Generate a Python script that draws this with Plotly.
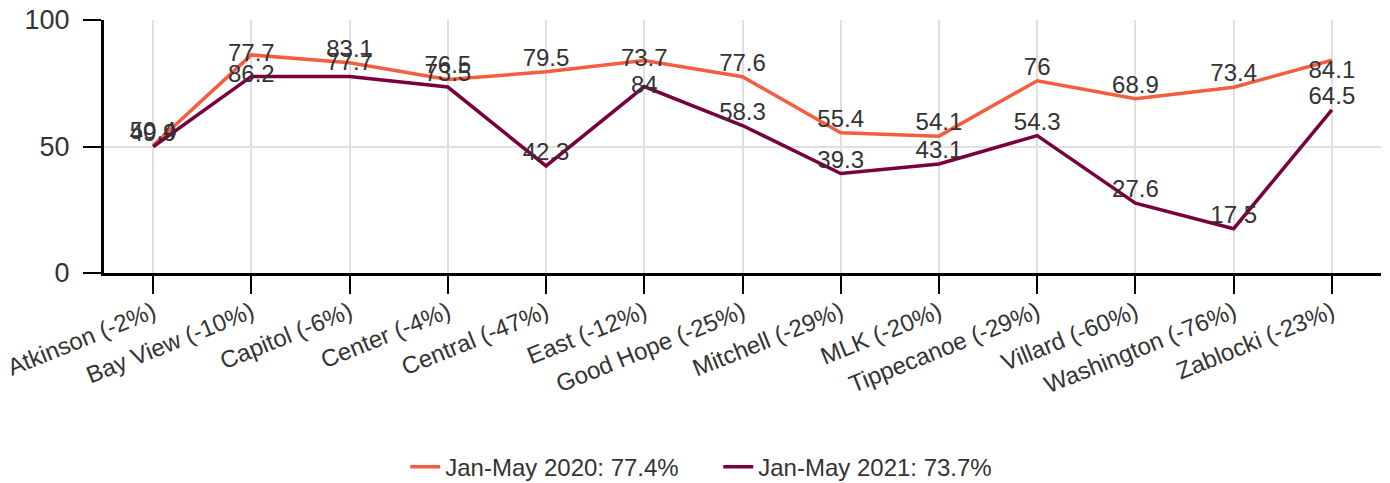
import plotly.graph_objects as go

schools = ['Atkinson (-2%)', 'Bay View (-10%)', 'Capitol (-6%)', 'Center (-4%)',
           'Central (-47%)', 'East (-12%)', 'Good Hope (-25%)', 'Mitchell (-29%)',
           'MLK (-20%)', 'Tippecanoe (-29%)', 'Villard (-60%)', 'Washington (-76%)',
           'Zablocki (-23%)']

rate_2020 = [50.4, 86.2, 83.1, 76.5, 79.5, 84.0, 77.6, 55.4, 54.1, 76.0, 68.9, 73.4, 84.1]
rate_2021 = [49.9, 77.7, 77.7, 73.5, 42.3, 73.7, 58.3, 39.3, 43.1, 54.3, 27.6, 17.5, 64.5]

# point labels as they appear on the chart (two of them are swapped there)
labels_2020 = ['50.4', '77.7', '83.1', '76.5', '79.5', '73.7', '77.6', '55.4', '54.1', '76', '68.9', '73.4', '84.1']
labels_2021 = ['49.9', '86.2', '77.7', '73.5', '42.3', '84', '58.3', '39.3', '43.1', '54.3', '27.6', '17.5', '64.5']

pos_2020 = ['top center'] * 13
pos_2020[1] = 'middle center'
pos_2020[5] = 'middle center'
pos_2020[12] = 'bottom center'
pos_2021 = ['top center'] * 13
pos_2021[1] = 'middle center'
pos_2021[5] = 'middle center'

FONT = 'Liberation Sans, Arial, sans-serif'
TXT = '#333333'

fig = go.Figure()
fig.add_trace(go.Scatter(
    x=schools, y=rate_2020, name='Jan-May 2020: 77.4%',
    mode='lines+text', text=labels_2020, textposition=pos_2020,
    textfont=dict(size=24, color=TXT, family=FONT),
    line=dict(color='#f45d3f', width=3.5), cliponaxis=False,
))
fig.add_trace(go.Scatter(
    x=schools, y=rate_2021, name='Jan-May 2021: 73.7%',
    mode='lines+text', text=labels_2021, textposition=pos_2021,
    textfont=dict(size=24, color=TXT, family=FONT),
    line=dict(color='#78003f', width=3.5), cliponaxis=False,
))

# page body has an 8px margin, so the figure is offset by that much
# (figure made a bit larger than the window so the legend never pushes the margins)
fig.update_layout(
    width=1398, height=491,
    margin=dict(l=96, r=25, t=12, b=225),
    paper_bgcolor='white', plot_bgcolor='white',
    font=dict(family=FONT, size=24, color=TXT),
    showlegend=True,
    legend=dict(orientation='h', x=0.481, xanchor='center',
                y=-0.76, yanchor='middle', entrywidth=268,
                font=dict(size=24, color=TXT)),
    xaxis=dict(
        range=[-0.5, 12.5], showgrid=True, gridcolor='#e0e0e0', gridwidth=2,
        showline=True, linecolor='black', linewidth=3,
        ticks='outside', ticklen=18, tickwidth=2, tickcolor='black',
        tickangle=-22, ticklabelstandoff=-5,
        tickfont=dict(size=24, color=TXT), automargin=False,
    ),
    yaxis=dict(
        range=[0, 100], tickvals=[0, 50, 100], showgrid=True, gridcolor='#e0e0e0', gridwidth=2,
        zeroline=False, showline=True, linecolor='black', linewidth=3,
        ticks='outside', ticklen=18, tickwidth=2, tickcolor='black',
        ticklabelstandoff=8, ticklabeloverflow='allow',
        tickfont=dict(size=27, color=TXT), automargin=False,
    ),
)

fig.write_html("out.html")
